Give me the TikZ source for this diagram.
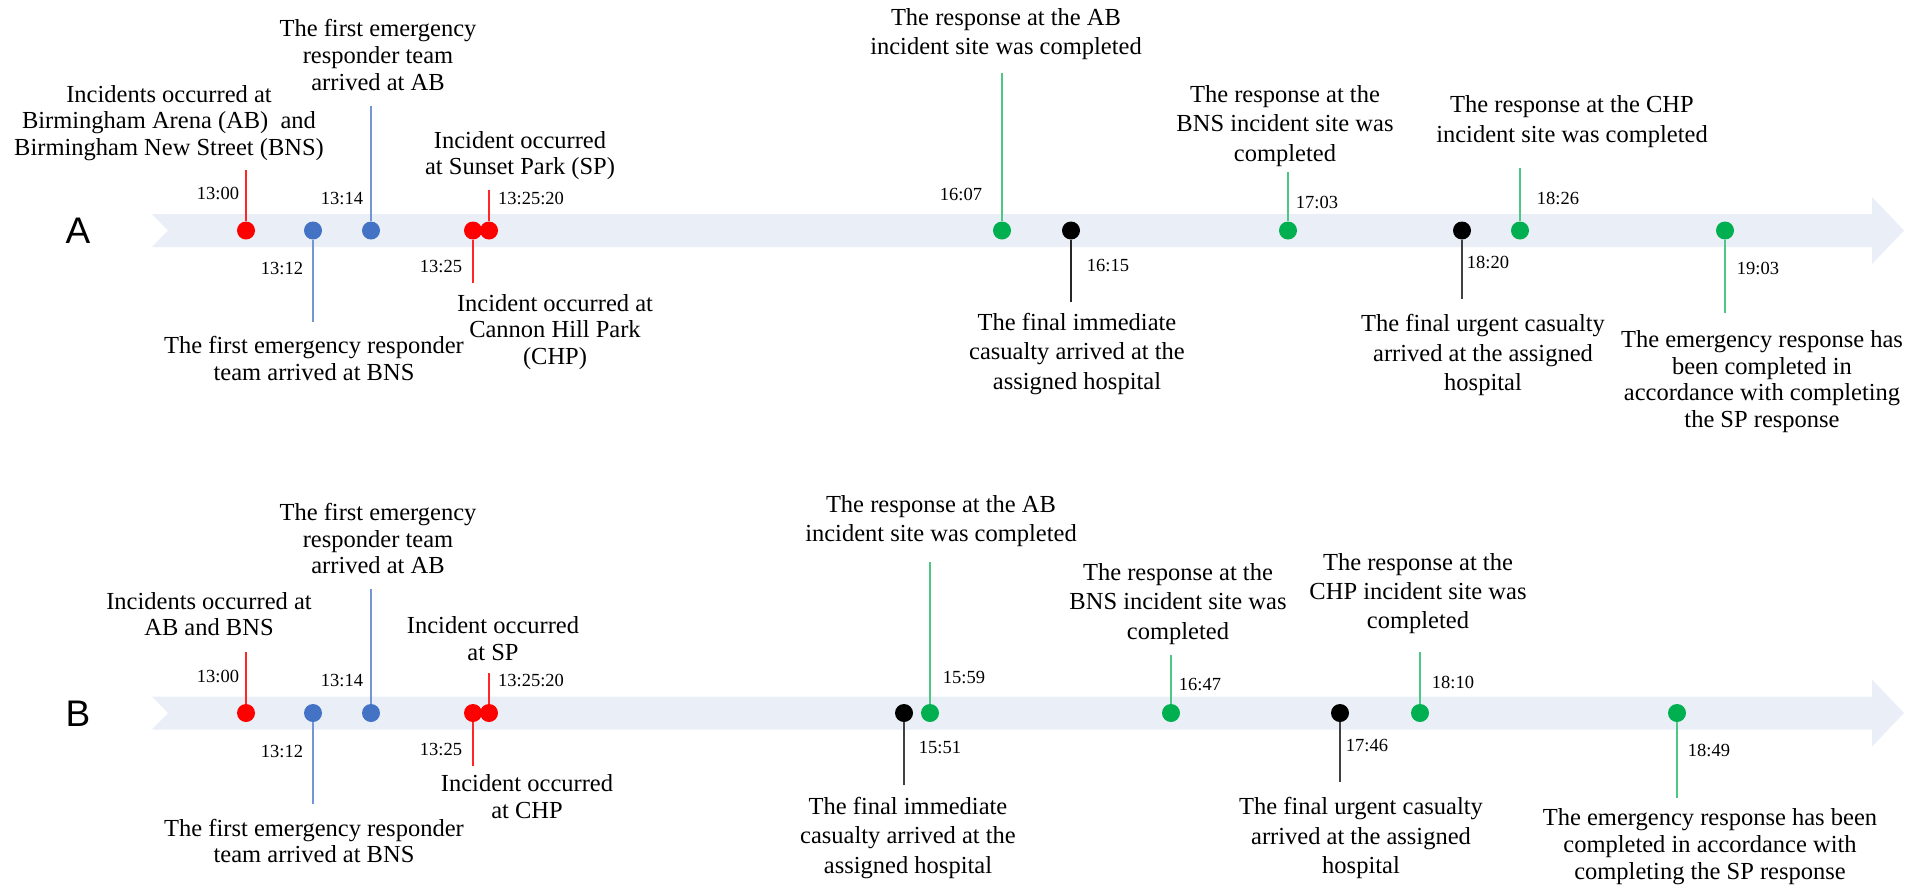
\documentclass[tikz,border=0pt]{standalone}
\usepackage{fontspec}
\setmainfont{Liberation Serif}
\newfontfamily\rowfont{Liberation Sans}

\definecolor{bandfill}{HTML}{EAEFF7}
\definecolor{evred}{HTML}{FF0000}
\definecolor{evblue}{HTML}{4472C4}
\definecolor{evgreen}{HTML}{00B050}
\definecolor{evblack}{HTML}{000000}

\tikzset{
  evdot/.style={circle, inner sep=0pt, minimum size=18pt, fill=#1, draw=none},
  stem/.style={line width=1.6pt, draw=#1},
  tm/.style={inner sep=0pt, font=\fontsize{18.5}{20}\selectfont},
  lab/.style={inner sep=0pt, align=center, font=\fontsize{24.5}{26.7}\selectfont},
  labw/.style={inner sep=0pt, align=center, font=\fontsize{24.5}{29.3}\selectfont},
  rowname/.style={inner sep=0pt, font=\rowfont\fontsize{37}{40}\selectfont},
}

% notched timeline band with arrow head, centred on height #1
\newcommand\timeband[1]{%
  \fill[bandfill] (152,#1-16.5) -- (1872,#1-16.5) -- (1872,#1-33.5) -- (1904,#1)
    -- (1872,#1+33.5) -- (1872,#1+16.5) -- (152,#1+16.5) -- (168,#1) -- cycle;
}

\begin{document}
\begin{tikzpicture}[x=1pt,y=-1pt]
\useasboundingbox[fill=white] (0,0) rectangle (1919,887);

% ---------------- timeline A ----------------
\timeband{230.5}
\node[rowname] (rowA) at (78,231) {A};

\coordinate (a1e) at (246,170);
\coordinate (a2e) at (313,322);
\coordinate (a3e) at (371,106);
\coordinate (a4e) at (473,283);
\coordinate (a5e) at (489,190);
\coordinate (a6e) at (1002,73);
\coordinate (a7e) at (1071,302);
\coordinate (a8e) at (1288,172);
\coordinate (a9e) at (1462,299);
\coordinate (a10e) at (1520,168);
\coordinate (a11e) at (1725,313);

\node[evdot=evred]   (a1) at (246,230.5) {};
\node[evdot=evblue]  (a2) at (313,230.5) {};
\node[evdot=evblue]  (a3) at (371,230.5) {};
\node[evdot=evred]   (a4) at (473,230.5) {};
\node[evdot=evred]   (a5) at (489,230.5) {};
\node[evdot=evgreen] (a6) at (1002,230.5) {};
\node[evdot=evblack] (a7) at (1071,230.5) {};
\node[evdot=evgreen] (a8) at (1288,230.5) {};
\node[evdot=evblack] (a9) at (1462,230.5) {};
\node[evdot=evgreen] (a10) at (1520,230.5) {};
\node[evdot=evgreen] (a11) at (1725,230.5) {};

\draw[stem=evred!85]    (a1) -- (a1e);
\draw[stem=evblue!75]   (a2) -- (a2e);
\draw[stem=evblue!75]   (a3) -- (a3e);
\draw[stem=evred!85]    (a4) -- (a4e);
\draw[stem=evred!85]    (a5) -- (a5e);
\draw[stem=evgreen!70]  (a6) -- (a6e);
\draw[stem=evblack!85]  (a7) -- (a7e);
\draw[stem=evgreen!70]  (a8) -- (a8e);
\draw[stem=evblack!75]  (a9) -- (a9e);
\draw[stem=evgreen!70]  (a10) -- (a10e);
\draw[stem=evgreen!70]  (a11) -- (a11e);

\node[tm] (a1t) at (218,193) {13:00};
\node[tm] (a2t) at (282,268) {13:12};
\node[tm] (a3t) at (342,198) {13:14};
\node[tm] (a4t) at (441,266) {13:25};
\node[tm] (a5t) at (531,198) {13:25:20};
\node[tm] (a6t) at (961,194) {16:07};
\node[tm] (a7t) at (1108,265) {16:15};
\node[tm] (a8t) at (1317,202) {17:03};
\node[tm] (a9t) at (1488,262) {18:20};
\node[tm] (a10t) at (1558,198) {18:26};
\node[tm] (a11t) at (1758,268) {19:03};

\node[lab] (a1x) at (169,123) {Incidents occurred at\\Birmingham Arena (AB)\ \ and\\Birmingham New Street (BNS)};
\node[lab] (a2x) at (314,358.5) {The first emergency responder\\team arrived at BNS};
\node[lab] (a3x) at (378,55) {The first emergency\\responder team\\arrived at AB};
\node[lab] (a4x) at (555,332) {Incident occurred at\\Cannon Hill Park\\(CHP)};
\node[lab] (a5x) at (520,155.5) {Incident occurred\\at Sunset Park (SP)};
\node[labw] (a6x) at (1006,34) {The response at the AB\\incident site was completed};
\node[labw] (a7x) at (1077,354) {The final immediate\\casualty arrived at the\\assigned hospital};
\node[labw] (a8x) at (1285,126) {The response at the\\BNS incident site was\\completed};
\node[labw] (a9x) at (1483,355) {The final urgent casualty\\arrived at the assigned\\hospital};
\node[labw] (a10x) at (1572,121.5) {The response at the CHP\\incident site was completed};
\node[lab] (a11x) at (1762,381.5) {The emergency response has\\been completed in\\accordance with completing\\the SP response};

% ---------------- timeline B ----------------
\timeband{713}
\node[rowname] (rowB) at (78,714) {B};

\coordinate (b1e) at (246,652);
\coordinate (b2e) at (313,804);
\coordinate (b3e) at (371,589);
\coordinate (b4e) at (473,766);
\coordinate (b5e) at (489,673);
\coordinate (b6e) at (904,785);
\coordinate (b7e) at (930,562);
\coordinate (b8e) at (1171,655);
\coordinate (b9e) at (1340,782);
\coordinate (b10e) at (1420,652);
\coordinate (b11e) at (1677,798);

\node[evdot=evred]   (b1) at (246,713) {};
\node[evdot=evblue]  (b2) at (313,713) {};
\node[evdot=evblue]  (b3) at (371,713) {};
\node[evdot=evred]   (b4) at (473,713) {};
\node[evdot=evred]   (b5) at (489,713) {};
\node[evdot=evblack] (b6) at (904,713) {};
\node[evdot=evgreen] (b7) at (930,713) {};
\node[evdot=evgreen] (b8) at (1171,713) {};
\node[evdot=evblack] (b9) at (1340,713) {};
\node[evdot=evgreen] (b10) at (1420,713) {};
\node[evdot=evgreen] (b11) at (1677,713) {};

\draw[stem=evred!85]    (b1) -- (b1e);
\draw[stem=evblue!75]   (b2) -- (b2e);
\draw[stem=evblue!75]   (b3) -- (b3e);
\draw[stem=evred!85]    (b4) -- (b4e);
\draw[stem=evred!85]    (b5) -- (b5e);
\draw[stem=evblack!75]  (b6) -- (b6e);
\draw[stem=evgreen!70]  (b7) -- (b7e);
\draw[stem=evgreen!70]  (b8) -- (b8e);
\draw[stem=evblack!75]  (b9) -- (b9e);
\draw[stem=evgreen!70]  (b10) -- (b10e);
\draw[stem=evgreen!70]  (b11) -- (b11e);

\node[tm] (b1t) at (218,676) {13:00};
\node[tm] (b2t) at (282,751) {13:12};
\node[tm] (b3t) at (342,680) {13:14};
\node[tm] (b4t) at (441,749) {13:25};
\node[tm] (b5t) at (531,680) {13:25:20};
\node[tm] (b6t) at (940,748) {15:51};
\node[tm] (b7t) at (964,677) {15:59};
\node[tm] (b8t) at (1200,684) {16:47};
\node[tm] (b9t) at (1367,745) {17:46};
\node[tm] (b10t) at (1453,682) {18:10};
\node[tm] (b11t) at (1709,750) {18:49};

\node[lab] (b1x) at (209,614) {Incidents occurred at\\AB and BNS};
\node[lab] (b2x) at (314,841) {The first emergency responder\\team arrived at BNS};
\node[lab] (b3x) at (378,538.5) {The first emergency\\responder team\\arrived at AB};
\node[lab] (b4x) at (527,796.5) {Incident occurred\\at CHP};
\node[lab] (b5x) at (493,638.5) {Incident occurred\\at SP};
\node[labw] (b6x) at (908,838) {The final immediate\\casualty arrived at the\\assigned hospital};
\node[labw] (b7x) at (941,521) {The response at the AB\\incident site was completed};
\node[labw] (b8x) at (1178,604) {The response at the\\BNS incident site was\\completed};
\node[labw] (b9x) at (1361,838) {The final urgent casualty\\arrived at the assigned\\hospital};
\node[labw] (b10x) at (1418,593.5) {The response at the\\CHP incident site was\\completed};
\node[lab] (b11x) at (1710,846.5) {The emergency response has been\\completed in accordance with\\completing the SP response};
\end{tikzpicture}
\end{document}
